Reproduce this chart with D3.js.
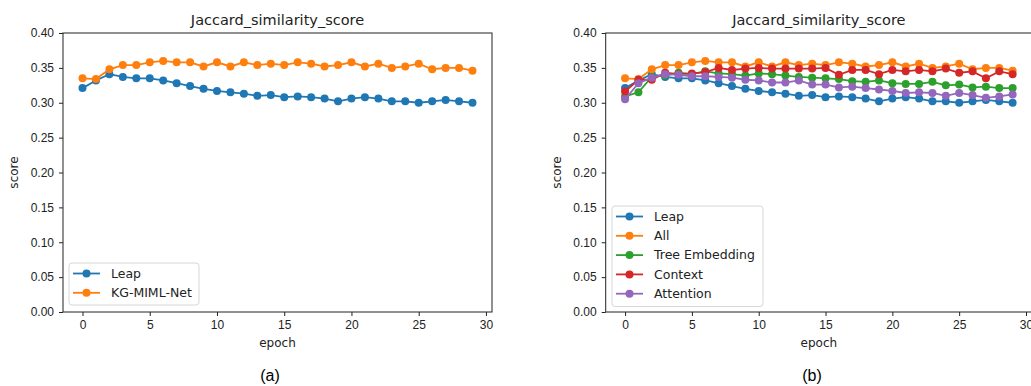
<!DOCTYPE html>
<html>
<head>
<meta charset="utf-8">
<script src="https://cdn.jsdelivr.net/npm/d3@7"></script>
<style>
  body { margin: 0; background: #fff; }
  svg { display: block; font-family: "DejaVu Sans", sans-serif; }
</style>
</head>
<body>
<div id="dataviz_area"></div>
<script>
// data
const epochs = [0,1,2,3,4,5,6,7,8,9,10,11,12,13,14,15,16,17,18,19,20,21,22,23,24,25,26,27,28,29];
const leap = [0.321,0.332,0.341,0.337,0.335,0.335,0.332,0.328,0.324,0.320,0.317,0.315,0.313,0.310,0.311,0.308,0.309,0.308,0.306,0.302,0.306,0.308,0.306,0.302,0.302,0.300,0.302,0.304,0.302,0.300];
const kgMiml = [0.335,0.334,0.348,0.354,0.354,0.358,0.360,0.358,0.358,0.352,0.358,0.352,0.358,0.354,0.356,0.354,0.358,0.356,0.352,0.354,0.358,0.352,0.356,0.350,0.352,0.356,0.348,0.350,0.350,0.346];
const treeEmb = [0.309,0.315,0.337,0.339,0.343,0.341,0.345,0.342,0.341,0.339,0.342,0.341,0.339,0.337,0.336,0.335,0.334,0.331,0.330,0.332,0.328,0.327,0.327,0.330,0.325,0.326,0.322,0.323,0.321,0.321];
const context = [0.316,0.333,0.333,0.343,0.341,0.342,0.344,0.350,0.347,0.349,0.350,0.349,0.349,0.349,0.349,0.350,0.340,0.347,0.347,0.341,0.347,0.345,0.347,0.345,0.349,0.343,0.345,0.335,0.345,0.341];
const attention = [0.305,0.328,0.336,0.341,0.340,0.338,0.338,0.337,0.336,0.333,0.332,0.329,0.329,0.332,0.326,0.326,0.322,0.323,0.321,0.319,0.317,0.314,0.315,0.314,0.310,0.314,0.311,0.307,0.309,0.312];

const xTicks = [0,5,10,15,20,25,30];
const yTicks = [0,0.05,0.10,0.15,0.20,0.25,0.30,0.35,0.40];

const seriesA = [
  {name: "Leap", values: leap, color: "#1f77b4"},
  {name: "KG-MIML-Net", values: kgMiml, color: "#ff7f0e"}
];
const seriesB = [
  {name: "Leap", values: leap, color: "#1f77b4"},
  {name: "All", values: kgMiml, color: "#ff7f0e"},
  {name: "Tree Embedding", values: treeEmb, color: "#2ca02c"},
  {name: "Context", values: context, color: "#d62728"},
  {name: "Attention", values: attention, color: "#9467bd"}
];

const svg = d3.select("#dataviz_area")
  .append("svg")
    .attr("width", 1031)
    .attr("height", 386);

function drawPanel(box, series, legendBox, caption) {
  const x = d3.scaleLinear()
    .domain([-1.45, 30.45])
    .range([box.left, box.right]);
  const y = d3.scaleLinear()
    .domain([0, 0.4])
    .range([box.bottom, box.top]);

  // title
  svg.append("text")
    .attr("x", (box.left + box.right) / 2)
    .attr("y", 25)
    .attr("text-anchor", "middle")
    .style("font-size", "14.5px")
    .style("fill", "#222")
    .text("Jaccard_similarity_score");

  // lines + markers
  const line = d3.line()
    .x((d, i) => x(epochs[i]))
    .y(d => y(d));

  series.forEach(s => {
    svg.append("path")
      .datum(s.values)
      .attr("fill", "none")
      .attr("stroke", s.color)
      .attr("stroke-width", 1.8)
      .attr("d", line);
    svg.append("g")
      .selectAll("circle")
      .data(s.values)
      .join("circle")
        .attr("cx", (d, i) => x(epochs[i]))
        .attr("cy", d => y(d))
        .attr("r", 4)
        .attr("fill", s.color);
  });

  // axes
  const xAxis = svg.append("g")
    .attr("transform", `translate(0, ${box.bottom})`)
    .call(d3.axisBottom(x).tickValues(xTicks).tickSize(4).tickPadding(4).tickSizeOuter(0));
  const yAxis = svg.append("g")
    .attr("transform", `translate(${box.left}, 0)`)
    .call(d3.axisLeft(y).tickValues(yTicks).tickFormat(d3.format(".2f")).tickSize(4).tickPadding(5).tickSizeOuter(0));
  [xAxis, yAxis].forEach(a => {
    a.select(".domain").remove();
    a.selectAll("text").style("font-size", "12px").style("fill", "#222").attr("font-family", null);
    a.selectAll("line").attr("stroke", "#222");
  });

  // frame
  svg.append("rect")
    .attr("x", box.left)
    .attr("y", box.top)
    .attr("width", box.right - box.left)
    .attr("height", box.bottom - box.top)
    .attr("fill", "none")
    .attr("stroke", "#222")
    .attr("stroke-width", 1);

  // axis labels
  svg.append("text")
    .attr("x", (box.left + box.right) / 2)
    .attr("y", 347)
    .attr("text-anchor", "middle")
    .style("font-size", "12px")
    .style("fill", "#222")
    .text("epoch");
  svg.append("text")
    .attr("transform", `translate(${box.left - 45}, ${(box.top + box.bottom) / 2}) rotate(-90)`)
    .attr("text-anchor", "middle")
    .style("font-size", "12px")
    .style("fill", "#222")
    .text("score");

  // legend
  svg.append("rect")
    .attr("x", legendBox.x)
    .attr("y", legendBox.y)
    .attr("width", legendBox.w)
    .attr("height", 19.5 * series.length + 3)
    .attr("rx", 3)
    .attr("fill", "white")
    .attr("fill-opacity", 0.8)
    .attr("stroke", "#d6d6d6");

  series.forEach((s, i) => {
    const ly = legendBox.y + 10.5 + i * 19.3;
    svg.append("line")
      .attr("x1", legendBox.x + 4)
      .attr("x2", legendBox.x + 31)
      .attr("y1", ly)
      .attr("y2", ly)
      .attr("stroke", s.color)
      .attr("stroke-width", 1.8);
    svg.append("circle")
      .attr("cx", legendBox.x + 17.5)
      .attr("cy", ly)
      .attr("r", 4)
      .attr("fill", s.color);
    svg.append("text")
      .attr("x", legendBox.x + 42)
      .attr("y", ly)
      .attr("dy", "0.35em")
      .style("font-size", "12.5px")
      .style("fill", "#222")
      .text(s.name);
  });

  // caption
  svg.append("text")
    .attr("x", caption.x)
    .attr("y", 381)
    .attr("text-anchor", "middle")
    .style("font-family", "'Liberation Sans', Arial, sans-serif")
    .style("font-size", "16px")
    .style("fill", "#000")
    .text(caption.text);
}

drawPanel({left: 63, right: 492, top: 33, bottom: 312}, seriesA,
  {x: 69, y: 263, w: 130}, {x: 270, text: "(a)"});
drawPanel({left: 605.7, right: 1032, top: 33, bottom: 312}, seriesB,
  {x: 612, y: 206, w: 151}, {x: 812, text: "(b)"});
</script>
</body>
</html>
